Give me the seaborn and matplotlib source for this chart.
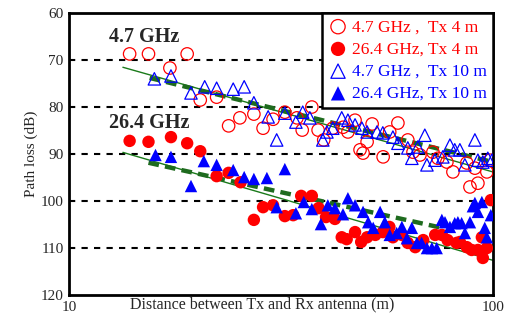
import numpy as np
import pandas as pd
import seaborn as sns
import matplotlib
matplotlib.use("Agg")
import matplotlib.pyplot as plt

# 4.7 GHz, Tx 4 m (open red circles)
d_47_tx4 = [13.9, 15.4, 19.0, 17.3, 20.4, 22.3, 23.8, 25.3, 27.3, 28.7, 30.3, 32.3,
            34.5, 35.5, 37.4, 38.7, 39.9, 41.9, 44.3, 45.5, 47.3, 48.6, 50.5, 51.9,
            57.1, 59.7, 63.0, 49.4, 64.8, 67.3, 72.2, 74.2, 77.9, 80.5, 86.8, 90.7,
            88.3, 92.2, 96.8, 98.4, 55.1]
pl_47_tx4 = [68.7, 68.7, 68.7, 71.7, 78.5, 77.9, 84.0, 82.3, 81.5, 84.5, 82.6, 81.1,
             82.3, 84.9, 80.0, 84.9, 87.0, 84.5, 84.3, 85.3, 82.8, 89.1, 87.4, 83.6,
             85.3, 83.4, 87.0, 89.8, 89.6, 90.2, 89.6, 90.9, 91.7, 93.8, 91.9, 93.0,
             97.0, 96.2, 93.8, 91.3, 90.6]

# 4.7 GHz, Tx 10 m (open blue triangles)
d_47_tx10 = [15.9, 17.4, 19.4, 20.9, 22.3, 24.4, 25.9, 27.3, 29.5, 30.9, 32.3, 34.3,
             35.6, 37.0, 39.7, 40.6, 41.9, 44.0, 45.5, 47.3, 49.1, 50.5, 53.3, 55.0,
             58.1, 59.7, 63.0, 64.4, 66.5, 69.1, 69.9, 73.0, 76.2, 79.2, 81.3, 83.6,
             85.9, 90.7, 92.2, 94.7, 97.3, 99.5]
pl_47_tx10 = [74.0, 73.4, 77.0, 75.7, 76.0, 76.2, 75.7, 79.1, 82.1, 87.0, 81.3, 83.2,
              81.1, 82.3, 87.0, 85.3, 84.5, 82.3, 82.8, 83.8, 84.5, 85.3, 85.3, 85.5,
              86.4, 87.7, 88.7, 90.9, 88.5, 86.0, 92.3, 91.3, 90.6, 88.1, 89.1, 89.1,
              92.3, 87.0, 91.3, 91.7, 90.9, 91.3]

# 26.4 GHz, Tx 4 m (filled red circles)
d_264_tx4 = [13.9, 15.4, 17.4, 19.0, 20.4, 22.3, 23.8, 25.4, 27.3, 28.7, 30.3, 32.3,
             33.8, 35.3, 37.4, 38.8, 40.4, 42.4, 44.0, 45.2, 47.3, 48.9, 50.5, 52.8,
             55.0, 58.1, 61.0, 63.0, 65.6, 68.5, 73.1, 75.8, 78.2, 82.1, 83.6, 86.8,
             89.1, 92.2, 94.2, 96.8, 94.7, 98.9, 57.0]
pl_264_tx4 = [87.2, 87.4, 86.4, 87.7, 89.4, 94.7, 94.0, 96.0, 104.0, 101.3, 100.9, 103.2,
              103.0, 98.9, 98.9, 101.5, 103.4, 103.8, 107.7, 108.1, 106.6, 108.7, 107.7, 107.2,
              106.6, 107.7, 107.2, 108.9, 109.8, 108.3, 107.2, 107.2, 108.3, 108.9, 108.7, 109.8,
              110.4, 110.4, 107.7, 110.0, 112.1, 99.8, 105.5]

# 26.4 GHz, Tx 10 m (filled blue triangles)
d_264_tx10 = [16.0, 17.4, 19.4, 20.8, 22.3, 24.4, 25.9, 27.3, 29.3, 32.3, 30.9, 34.3,
              35.8, 37.4, 39.3, 40.8, 42.4, 44.3, 45.5, 47.3, 49.4, 50.8, 52.2, 54.2,
              55.6, 57.1, 59.3, 61.0, 62.7, 64.4, 66.2, 67.9, 69.9, 71.8, 73.7, 75.8,
              77.1, 79.2, 81.3, 82.7, 84.4, 85.9, 88.3, 89.7, 90.7, 92.2, 94.2, 95.7,
              96.8, 98.9]
pl_264_tx10 = [90.2, 90.6, 96.8, 91.5, 92.3, 93.4, 94.9, 95.3, 95.1, 93.2, 101.3, 102.6,
               100.2, 101.7, 104.9, 100.9, 101.5, 102.8, 99.4, 100.9, 102.3, 104.5, 105.7, 102.3,
               104.5, 107.2, 106.8, 105.5, 107.9, 105.7, 108.9, 108.9, 110.0, 110.0, 110.0, 104.0,
               104.5, 105.5, 104.7, 104.5, 104.7, 106.8, 104.5, 101.1, 100.4, 102.3, 100.2, 105.7,
               107.7, 103.0]

# fitted lines: path loss at 10 m, slope per decade, distance range
fit_all = {"4.7": (68.3, 25.5, 13.4, 100), "26.4": (86.3, 26.3, 13.4, 100)}
fit_tx10 = {"4.7": (69.6, 22.1, 15.5, 100), "26.4": (88.1, 20.0, 15.4, 75)}

sns.set_style("ticks")
plt.rcParams["font.family"] = ["Liberation Serif", "DejaVu Serif"]

fig = plt.figure(figsize=(5.15, 3.25), dpi=100)
ax = fig.add_axes([0.134, 0.092, 0.823, 0.868])

for a, b, d0, d1 in fit_all.values():
    dd = np.logspace(np.log10(d0), np.log10(d1), 50)
    ax.plot(dd, a + b * np.log10(dd / 10), color="#1a7a1a", lw=1.0, zorder=1)
for a, b, d0, d1 in fit_tx10.values():
    dd = np.logspace(np.log10(d0), np.log10(d1), 50)
    ax.plot(dd, a + b * np.log10(dd / 10), color="#1e6b1e", lw=3.2,
            dashes=(2.4, 1.4), zorder=1)

ms = 80
sns.scatterplot(x=d_47_tx4, y=pl_47_tx4, ax=ax, marker="o", s=ms,
                facecolor="none", edgecolor="red", linewidth=0.9,
                label="4.7 GHz ,  Tx 4 m", zorder=3)
sns.scatterplot(x=d_264_tx4, y=pl_264_tx4, ax=ax, marker="o", s=ms,
                color="red", edgecolor="none", linewidth=0,
                label="26.4 GHz, Tx 4 m", zorder=3)
sns.scatterplot(x=d_47_tx10, y=pl_47_tx10, ax=ax, marker="^", s=ms,
                facecolor="none", edgecolor="blue", linewidth=0.9,
                label="4.7 GHz ,  Tx 10 m", zorder=3)
sns.scatterplot(x=d_264_tx10, y=pl_264_tx10, ax=ax, marker="^", s=ms,
                color="blue", edgecolor="none", linewidth=0,
                label="26.4 GHz, Tx 10 m", zorder=3)

ax.set_xscale("log")
ax.set_xlim(10, 100)
ax.set_ylim(120, 60)
ax.set_yticks([60, 70, 80, 90, 100, 110, 120])
ax.set_xticks([10, 100])
ax.set_xticklabels(["10", "100"])
ax.xaxis.set_minor_locator(matplotlib.ticker.NullLocator())
ax.tick_params(length=0, labelsize=11, pad=4)
for y in [70, 80, 90, 100, 110]:
    ax.axhline(y, color="black", lw=1.5, dashes=(3, 3), zorder=0)
for sp in ax.spines.values():
    sp.set_linewidth(2)
    sp.set_color("black")

ax.set_xlabel("Distance between Tx and Rx antenna (m)", fontsize=11.5)
ax.xaxis.set_label_coords(0.455, -0.005)
ax.xaxis.label.set_va("top")
ax.set_ylabel("Path loss (dB)", fontsize=11, labelpad=2)

ax.text(12.4, 65.1, "4.7 GHz", fontsize=14.5, fontweight="bold", va="center")
ax.text(12.4, 83.4, "26.4 GHz", fontsize=14.5, fontweight="bold", va="center")

leg = ax.legend(loc="upper right", fontsize=12.5, frameon=True, fancybox=False,
                borderaxespad=0, handletextpad=0.2, borderpad=0.35,
                labelspacing=0.35, handlelength=1.2, markerscale=1.15)
leg.get_frame().set_edgecolor("black")
leg.get_frame().set_linewidth(1.8)
leg.get_frame().set_alpha(1)
for txt, c in zip(leg.get_texts(), ["red", "red", "blue", "blue"]):
    txt.set_color(c)

fig.savefig("out.png", dpi=100)
